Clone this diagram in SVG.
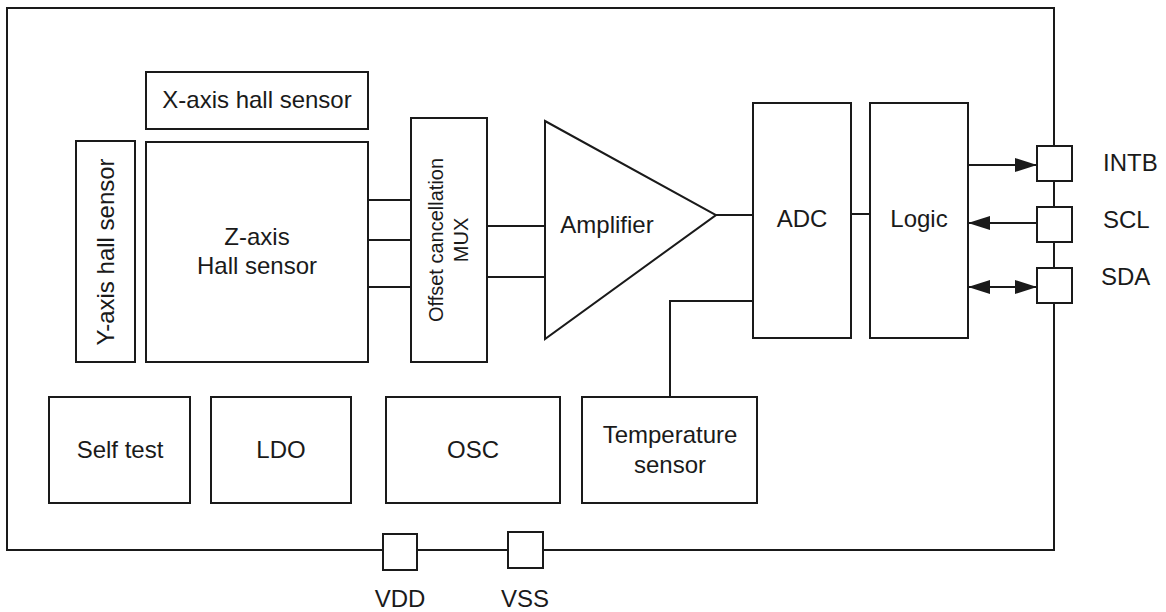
<svg xmlns="http://www.w3.org/2000/svg" width="1166" height="612" viewBox="0 0 1166 612">
<defs>
<style>
.b{fill:#fff;stroke:#1a1a1a;stroke-width:2}
.w{fill:none;stroke:#1a1a1a;stroke-width:2}
text{font-family:"Liberation Sans",Arial,sans-serif;font-size:24px;fill:#1a1a1a;text-anchor:middle}
.s{font-size:20px}
.l{text-anchor:start}
</style>
<marker id="ah" markerUnits="userSpaceOnUse" markerWidth="22" markerHeight="14" refX="22" refY="7" orient="auto-start-reverse" viewBox="0 0 22 14">
<path d="M0,0 L22,7 L0,14 z" fill="#1a1a1a"/>
</marker>
</defs>
<rect width="1166" height="612" fill="#fff"/>
<g id="chip"><rect class="w" x="7" y="8" width="1047" height="542"/></g>
<g id="connectors">
<path class="w" d="M368,200 H411 M368,240 H411 M368,287 H411"/>
<path class="w" d="M487,226 H545 M487,277 H545"/>
<path class="w" d="M716,215 H753"/>
<path class="w" d="M851,214 H870"/>
<path class="w" d="M670,397 V301 H753"/>
<path class="w" d="M968,165 H1037" marker-end="url(#ah)"/>
<path class="w" d="M1037,223 H968" marker-end="url(#ah)"/>
<path class="w" d="M968,287 H1037" marker-start="url(#ah)" marker-end="url(#ah)"/>
</g>
<g id="x-axis"><rect class="b" x="146" y="72" width="222" height="57"/><text x="257" y="108">X-axis hall sensor</text></g>
<g id="y-axis"><rect class="b" x="76" y="141" width="59" height="221"/><text transform="translate(114,252) rotate(-90)">Y-axis hall sensor</text></g>
<g id="z-axis"><rect class="b" x="146" y="142" width="222" height="220"/><text x="257" y="245">Z-axis</text><text x="257" y="274">Hall sensor</text></g>
<g id="mux"><rect class="b" x="411" y="118" width="76" height="244"/><text class="s" transform="translate(443,240) rotate(-90)">Offset cancellation</text><text class="s" transform="translate(468,240) rotate(-90)">MUX</text></g>
<g id="amplifier"><path class="b" d="M545,121 L716,215 L545,339 Z"/><text x="607" y="233">Amplifier</text></g>
<g id="adc"><rect class="b" x="753" y="103" width="98" height="235"/><text x="802" y="227">ADC</text></g>
<g id="logic"><rect class="b" x="870" y="103" width="98" height="235"/><text x="919" y="227">Logic</text></g>
<g id="self-test"><rect class="b" x="49" y="397" width="141" height="106"/><text x="120" y="458">Self test</text></g>
<g id="ldo"><rect class="b" x="211" y="397" width="140" height="106"/><text x="281" y="458">LDO</text></g>
<g id="osc"><rect class="b" x="386" y="397" width="174" height="106"/><text x="473" y="458">OSC</text></g>
<g id="temp"><rect class="b" x="582" y="397" width="175" height="106"/><text x="670" y="443">Temperature</text><text x="670" y="473">sensor</text></g>
<g id="intb"><rect class="b" x="1037" y="146" width="35" height="35"/><text class="l" x="1103" y="171">INTB</text></g>
<g id="scl"><rect class="b" x="1037" y="207" width="35" height="35"/><text class="l" x="1103" y="228">SCL</text></g>
<g id="sda"><rect class="b" x="1037" y="268" width="35" height="35"/><text class="l" x="1101" y="285">SDA</text></g>
<g id="vdd"><rect class="b" x="383" y="534" width="34" height="36"/><text x="400" y="607">VDD</text></g>
<g id="vss"><rect class="b" x="508" y="532" width="35" height="36"/><text x="525" y="607">VSS</text></g>
</svg>
